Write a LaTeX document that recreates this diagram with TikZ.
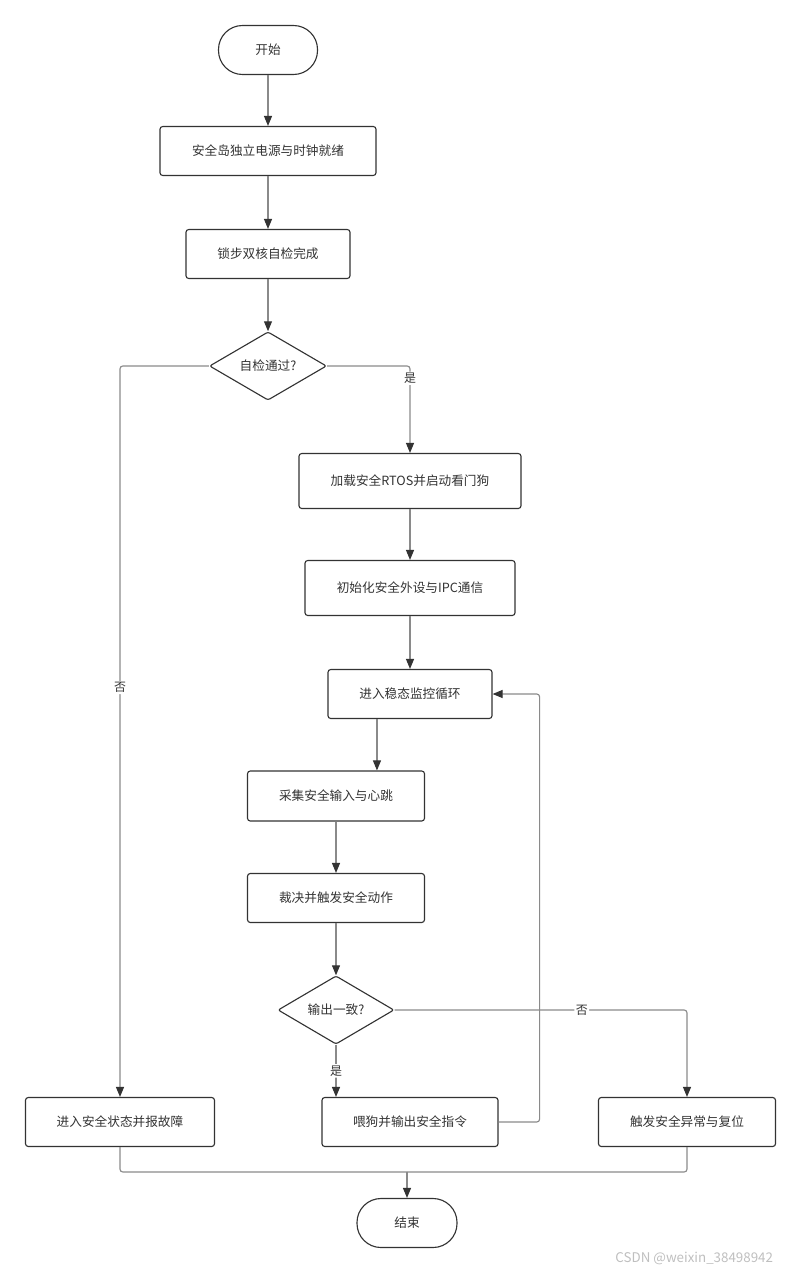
\documentclass[tikz,border=0pt]{standalone}
\usepackage{fontspec}
\setmainfont{Noto Sans CJK SC}
\usetikzlibrary{shapes.geometric,arrows.meta,calc}

\definecolor{boxline}{HTML}{333333}
\definecolor{wireline}{HTML}{8A8A8A}

\tikzset{
    every node/.style={font=\fontsize{9}{11}\selectfont,text=boxline},
    procbox/.style={draw=boxline,rectangle,rounded corners=2pt,line width=0.8pt,inner sep=0pt},
    termbox/.style={draw=boxline,rectangle,rounded corners=0.6cm,line width=0.8pt,inner sep=0pt},
    askbox/.style={draw=boxline,diamond,rounded corners=1.5pt,line width=0.8pt,inner sep=0pt},
    wire/.style={draw=wireline,line width=0.8pt,rounded corners=2pt},
    arr/.style={wire,-{Triangle[length=2.5mm,width=2mm,color=boxline]}},
    lbl/.style={fill=white,inner sep=1pt,font=\fontsize{8.5}{10}\selectfont}
}

\begin{document}
\begin{tikzpicture}[x=0.025cm,y=-0.025cm]
    \useasboundingbox (0,0) rectangle (800,1274);

    % main column
    \node[termbox,minimum width=2.475cm,minimum height=1.225cm] (start) at (268,50) {开始};
    \node[procbox,minimum width=5.4cm,minimum height=1.225cm] (power) at (268,151) {安全岛独立电源与时钟就绪};
    \node[procbox,minimum width=4.1cm,minimum height=1.225cm] (lockstep) at (268,254) {锁步双核自检完成};
    \node[askbox,minimum width=2.925cm,minimum height=1.7cm] (selfchk) at (268,366) {自检通过?};

    % pass branch
    \node[procbox,minimum width=5.55cm,minimum height=1.375cm] (rtos) at (410,481) {加载安全RTOS并启动看门狗};
    \node[procbox,minimum width=5.25cm,minimum height=1.375cm] (periph) at (410,588) {初始化安全外设与IPC通信};
    \node[procbox,minimum width=4.1cm,minimum height=1.225cm] (monloop) at (410,694) {进入稳态监控循环};
    \node[procbox,minimum width=4.425cm,minimum height=1.25cm] (sample) at (336,796) {采集安全输入与心跳};
    \node[procbox,minimum width=4.425cm,minimum height=1.225cm] (vote) at (336,898) {裁决并触发安全动作};
    \node[askbox,minimum width=2.9cm,minimum height=1.7cm] (outchk) at (336,1010) {输出一致?};

    % bottom row
    \node[procbox,minimum width=4.725cm,minimum height=1.225cm] (fault) at (120,1122) {进入安全状态并报故障};
    \node[procbox,minimum width=4.4cm,minimum height=1.225cm] (feed) at (410,1122) {喂狗并输出安全指令};
    \node[procbox,minimum width=4.425cm,minimum height=1.225cm] (trip) at (687,1122) {触发安全异常与复位};
    \node[termbox,minimum width=2.5cm,minimum height=1.225cm] (finish) at (407,1223) {结束};

    \coordinate (merge) at (407,1172);

    % connectors
    \draw[arr] (start) -- (power);
    \draw[arr] (power) -- (lockstep);
    \draw[arr] (lockstep) -- (selfchk);
    \draw[arr] (selfchk.west) -| node[lbl,pos=0.72]{否} (fault.north);
    \draw[arr] (selfchk.east) -| node[lbl,pos=0.57]{是} (rtos.north);
    \draw[arr] (rtos) -- (periph);
    \draw[arr] (periph) -- (monloop);
    \draw[arr] ($(monloop.south west)!0.3!(monloop.south east)$) coordinate (tap) -- (tap |- sample.north);
    \draw[arr] (sample) -- (vote);
    \draw[arr] (vote) -- (outchk);
    \draw[arr] (outchk.south) -- node[lbl]{是} (outchk.south |- feed.north);
    \draw[arr] (outchk.east) -| node[lbl,pos=0.32]{否} (trip.north);
    \draw[arr] (feed.east) -- ++(41,0) |- (monloop.east);
    \draw[wire] (fault.south) |- (merge);
    \draw[wire] (trip.south) |- (merge);
    \draw[arr] (merge) -- (finish.north);

    \node[anchor=east,text=black!25,font=\fontsize{9.5}{11}\selectfont] (mark) at (778,1258) {CSDN @weixin\_38498942};
\end{tikzpicture}
\end{document}
